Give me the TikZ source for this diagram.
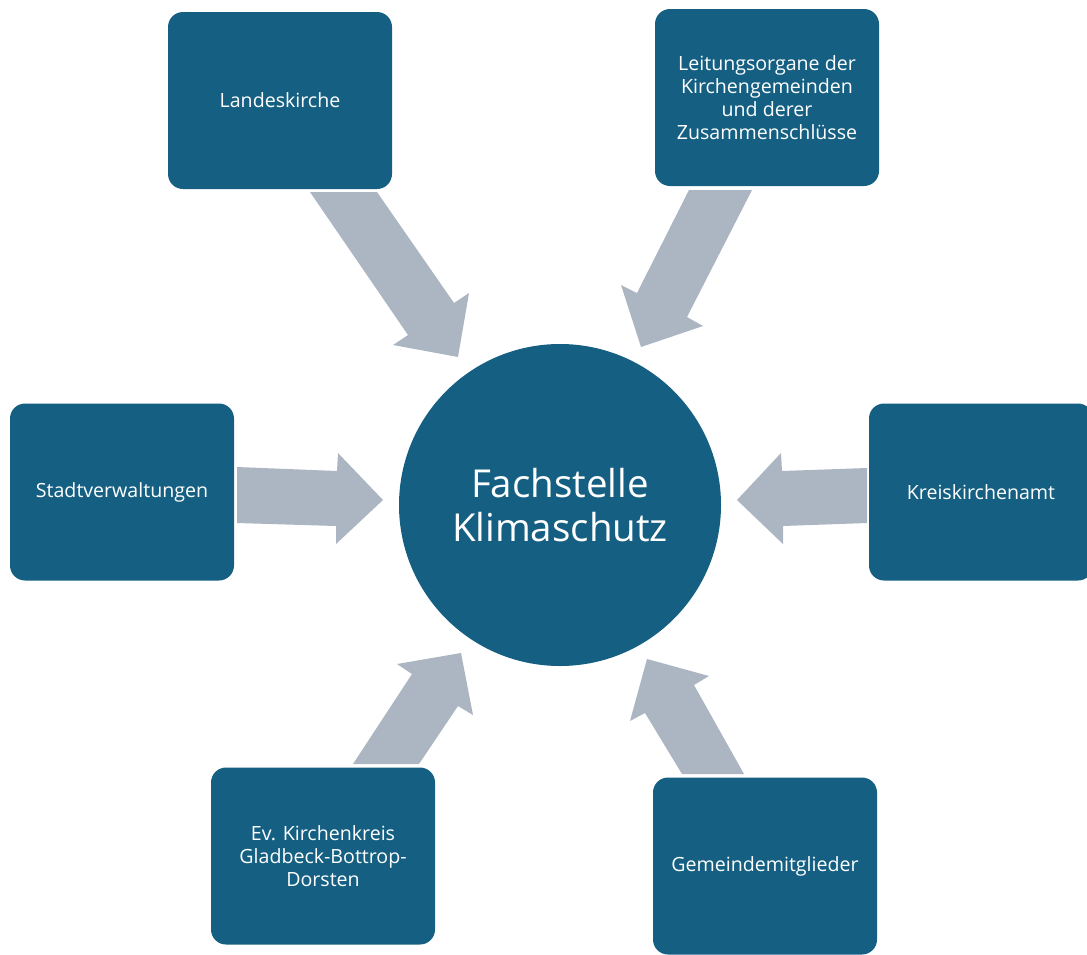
\documentclass[tikz,border=0pt]{standalone}
\usepackage{fontspec}
\setmainfont{Open Sans}
\definecolor{boxblue}{HTML}{156082}
\definecolor{arrowgray}{HTML}{ABB6C2}
\begin{document}
\begin{tikzpicture}[x=1pt,y=-1pt,
  member/.style={draw=none,fill=boxblue,rounded corners=15pt,minimum width=224pt,
    minimum height=177pt,text=white,align=center,inner sep=0pt,
    font=\fontsize{19.6}{23}\selectfont},
  hub/.style={circle,fill=boxblue,minimum size=322pt,text=white,align=center,
    inner sep=0pt,font=\fontsize{38.5}{44}\selectfont},
  blockarrow/.style={fill=arrowgray,draw=none}]
\useasboundingbox (0,0) rectangle (1087,954);

% central office
\node[hub] (hub) at (560,505) {Fachstelle\\Klimaschutz};

% partners around it
\node[member] (lk)  at (280,100.5) {Landeskirche};
\node[member] (lo)  at (767,97.5)  {Leitungsorgane der\\Kirchengemeinden\\und derer\\Zusammenschlüsse};
\node[member] (sv)  at (122,492)   {Stadtverwaltungen};
\node[member] (kka) at (981,492)   {Kreiskirchenamt};
\node[member] (kk)  at (323,856)   {Ev. Kirchenkreis\\Gladbeck-Bottrop-\\Dorsten};
\node[member] (gm)  at (765,866)   {Gemeindemitglieder};

% block arrows pointing at the hub
\fill[blockarrow] (310,192) -- (377,192) -- (454,303) -- (469,293) -- (458,357)
  -- (393,345) -- (408,335) -- cycle;
\fill[blockarrow] (689,190) -- (752,190) -- (687,317) -- (703,326) -- (641,347)
  -- (621,285) -- (637,293) -- cycle;
\fill[blockarrow] (237,467) -- (337,471) -- (338,453) -- (383,500) -- (336,544)
  -- (336,526) -- (237,523) -- cycle;
\fill[blockarrow] (867,468) -- (782,471) -- (781,453) -- (737,500) -- (783,544)
  -- (783,526) -- (867,523) -- cycle;
\fill[blockarrow] (353,764) -- (419,764) -- (458,706) -- (473,715) -- (461,653)
  -- (397,664) -- (412,674) -- cycle;
\fill[blockarrow] (682,774) -- (744,774) -- (694,685) -- (709,676) -- (647,659)
  -- (630,721) -- (645,713) -- cycle;
\end{tikzpicture}
\end{document}
